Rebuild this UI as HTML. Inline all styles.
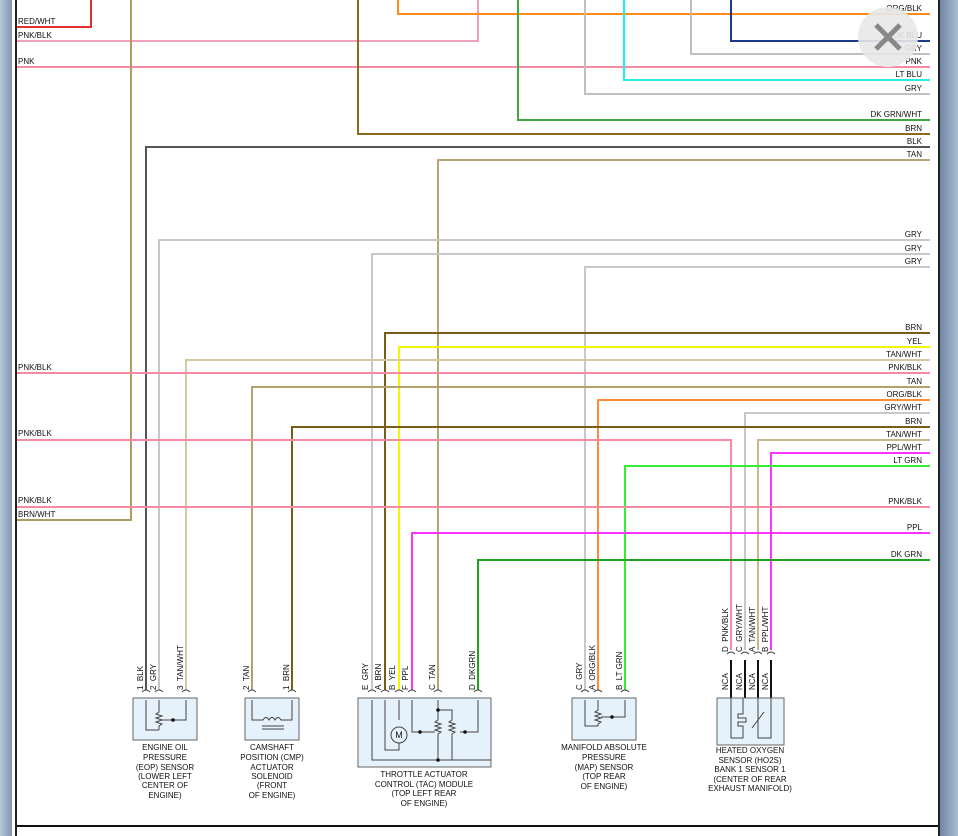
<!DOCTYPE html>
<html><head><meta charset="utf-8"><style>
html,body{margin:0;padding:0;width:958px;height:836px;overflow:hidden;background:#fff}
svg{display:block}
text{font-family:"Liberation Sans",Arial,sans-serif;font-size:8px;fill:#111}
.r{text-anchor:end}
.c{text-anchor:middle}
.w{fill:none;stroke-width:2}
</style></head><body>
<svg width="958" height="836" viewBox="0 0 958 836">
<defs>
<linearGradient id="bg" x1="0" x2="1"><stop offset="0" stop-color="#b8c8da"/><stop offset="1" stop-color="#7f96b2"/></linearGradient>
<linearGradient id="bg2" x1="0" x2="1"><stop offset="0" stop-color="#6f87a5"/><stop offset="1" stop-color="#a9bcd2"/></linearGradient>
</defs>
<rect x="0" y="0" width="12" height="836" fill="url(#bg)"/>
<rect x="12" y="0" width="5" height="836" fill="#fff"/>
<rect x="15" y="0" width="2" height="836" fill="#222"/>
<rect x="940" y="0" width="18" height="836" fill="url(#bg2)"/>
<rect x="938" y="0" width="2" height="836" fill="#222"/>
<rect x="17" y="825" width="921" height="2" fill="#111"/>
<rect x="17" y="827" width="921" height="9" fill="#fff"/>

<g class="w">
<!-- top wires -->
<path d="M17 27H91V0" stroke="#e53030"/>
<path d="M17 41H478V0" stroke="#f0a0b8"/>
<path d="M17 67H930" stroke="#f58aa3"/>
<path d="M398 0V14H930" stroke="#ff8c1a"/>
<path d="M731 0V41H930" stroke="#1c3a8c"/>
<path d="M691 0V54H930" stroke="#c0c0c0"/>
<path d="M624 0V80H930" stroke="#22eeee"/>
<path d="M585 0V94H930" stroke="#c0c0c0"/>
<path d="M518 0V120H930" stroke="#3aaa3a"/>
<path d="M358 0V134H930" stroke="#8b6a1f"/>
<path d="M131 0V520H17" stroke="#b09a60"/>
<!-- mid wires -->
<path d="M930 147H146V690" stroke="#555"/>
<path d="M930 160H438V690" stroke="#b5a578"/>
<path d="M930 240H159V690" stroke="#c8c8c8"/>
<path d="M930 254H372V690" stroke="#c8c8c8"/>
<path d="M930 267H585V690" stroke="#c8c8c8"/>
<path d="M930 333H385V690" stroke="#7a5c18"/>
<path d="M930 347H399V690" stroke="#f5f500"/>
<path d="M930 360H186V690" stroke="#d6c8a4"/>
<path d="M17 373H930" stroke="#f58aa3"/>
<path d="M930 387H252V690" stroke="#b5a070"/>
<path d="M930 400H598V690" stroke="#ff8c3a"/>
<path d="M930 413H745V650" stroke="#c8c8c8"/>
<path d="M930 427H292V690" stroke="#7a5c18"/>
<path d="M17 440H731V650" stroke="#f58aa3"/>
<path d="M930 440H758V650" stroke="#c8b890"/>
<path d="M930 453H771V650" stroke="#ff33ff"/>
<path d="M930 466H625V690" stroke="#33ee33"/>
<path d="M17 507H930" stroke="#f58aa3"/>
<path d="M930 533H412V690" stroke="#ff33ff"/>
<path d="M930 560H478V690" stroke="#22a022"/>
<!-- HO2S black NCA -->
<path d="M731 660V698M745 660V698M758 660V698M771 660V698" stroke="#111"/>
</g>

<!-- left labels -->
<text x="18" y="24">RED/WHT</text>
<text x="18" y="38">PNK/BLK</text>
<text x="18" y="64">PNK</text>
<text x="18" y="370">PNK/BLK</text>
<text x="18" y="436">PNK/BLK</text>
<text x="18" y="503">PNK/BLK</text>
<text x="18" y="517">BRN/WHT</text>
<!-- right labels -->
<g class="r">
<text x="922" y="11">ORG/BLK</text>
<text x="922" y="38">DK BLU</text>
<text x="922" y="51">GRY</text>
<text x="922" y="64">PNK</text>
<text x="922" y="77">LT BLU</text>
<text x="922" y="91">GRY</text>
<text x="922" y="117">DK GRN/WHT</text>
<text x="922" y="131">BRN</text>
<text x="922" y="144">BLK</text>
<text x="922" y="157">TAN</text>
<text x="922" y="237">GRY</text>
<text x="922" y="251">GRY</text>
<text x="922" y="264">GRY</text>
<text x="922" y="330">BRN</text>
<text x="922" y="344">YEL</text>
<text x="922" y="357">TAN/WHT</text>
<text x="922" y="370">PNK/BLK</text>
<text x="922" y="384">TAN</text>
<text x="922" y="397">ORG/BLK</text>
<text x="922" y="410">GRY/WHT</text>
<text x="922" y="424">BRN</text>
<text x="922" y="437">TAN/WHT</text>
<text x="922" y="450">PPL/WHT</text>
<text x="922" y="463">LT GRN</text>
<text x="922" y="504">PNK/BLK</text>
<text x="922" y="530">PPL</text>
<text x="922" y="557">DK GRN</text>
</g>

<!-- close button -->
<circle cx="888" cy="37" r="30" fill="#e8e8e8" opacity="0.9"/>
<path d="M876 25L900 49M900 25L876 49" stroke="#888" stroke-width="5"/>

<!-- sensor boxes -->
<g fill="#e6f2fb" stroke="#666" stroke-width="1">
<rect x="133" y="698" width="64" height="42"/>
<rect x="245" y="698" width="54" height="42"/>
<rect x="358" y="698" width="133" height="69"/>
<rect x="572" y="698" width="64" height="42"/>
<rect x="717" y="698" width="67" height="47"/>
</g>
<!-- pin arcs -->
<g fill="none" stroke="#444" stroke-width="1">
<path d="M142 692q4-4 8 0M155 692q4-4 8 0M182 692q4-4 8 0M248 692q4-4 8 0M288 692q4-4 8 0M368 692q4-4 8 0M381 692q4-4 8 0M395 692q4-4 8 0M408 692q4-4 8 0M434 692q4-4 8 0M474 692q4-4 8 0M581 692q4-4 8 0M594 692q4-4 8 0M621 692q4-4 8 0M727 654q4-4 8 0M741 654q4-4 8 0M754 654q4-4 8 0M767 654q4-4 8 0"/>
<!-- internal EOP -->
<path d="M146 700V730H159M159 700V712l-3 2 6 2-6 2 6 2-6 2 6 2-3 2V730M162 720H186V700"/>
<!-- CMP -->
<path d="M252 700V720H263q3-5 6 0q3-5 6 0q3-5 6 0H292V700M262 726H284M262 729H284"/>
<!-- TAC -->
<path d="M372 700V760H491M385 700V750H399V742M399 700V720M412 700V732H435M438 700V710H452V720l-3 2 6 2-6 2 6 2-6 2 6 2-3 2V760M438 710V720l-3 2 6 2-6 2 6 2-6 2 6 2-3 2V760M460 732H478V700"/>
<circle cx="399" cy="735" r="8" fill="#e6f2fb"/>
<!-- MAP -->
<path d="M585 700V726H598M598 700V710l-3 2 6 2-6 2 6 2-6 2 6 2-3 2V726M601 717H625V700"/>
<!-- HO2S -->
<path d="M731 698V738H743V726h-5v-4h8v-4h-8v-4h5V698M758 698V738H771V698M752 728L764 712"/>
</g>
<g fill="#111"><circle cx="173" cy="720" r="1.8"/><circle cx="438" cy="710" r="1.8"/><circle cx="420" cy="732" r="1.8"/><circle cx="465" cy="732" r="1.8"/><circle cx="438" cy="760" r="1.8"/><circle cx="612" cy="717" r="1.8"/></g>
<text x="399" y="738" class="c" style="font-size:9px">M</text>

<!-- rotated pin labels -->
<g style="font-size:7.5px">
<text transform="translate(143,690) rotate(-90)">1 &#160;BLK</text>
<text transform="translate(156,690) rotate(-90)">2 &#160;GRY</text>
<text transform="translate(183,690) rotate(-90)">3 &#160;TAN/WHT</text>
<text transform="translate(249,690) rotate(-90)">2 &#160;TAN</text>
<text transform="translate(289,690) rotate(-90)">1 &#160;BRN</text>
<text transform="translate(368,690) rotate(-90)">E &#160;GRY</text>
<text transform="translate(381,690) rotate(-90)">A &#160;BRN</text>
<text transform="translate(395,690) rotate(-90)">B &#160;YEL</text>
<text transform="translate(408,690) rotate(-90)">F &#160;PPL</text>
<text transform="translate(435,690) rotate(-90)">C &#160;TAN</text>
<text transform="translate(475,690) rotate(-90)">D &#160;DKGRN</text>
<text transform="translate(582,690) rotate(-90)">C &#160;GRY</text>
<text transform="translate(595,690) rotate(-90)">A &#160;ORG/BLK</text>
<text transform="translate(622,690) rotate(-90)">B &#160;LT GRN</text>
<text transform="translate(728,652) rotate(-90)">D &#160;PNK/BLK</text>
<text transform="translate(742,652) rotate(-90)">C &#160;GRY/WHT</text>
<text transform="translate(755,652) rotate(-90)">A &#160;TAN/WHT</text>
<text transform="translate(768,652) rotate(-90)">B &#160;PPL/WHT</text>
<text transform="translate(728,690) rotate(-90)">NCA</text>
<text transform="translate(742,690) rotate(-90)">NCA</text>
<text transform="translate(755,690) rotate(-90)">NCA</text>
<text transform="translate(768,690) rotate(-90)">NCA</text>
</g>

<!-- captions -->
<g class="c">
<text x="165" y="750">ENGINE OIL</text><text x="165" y="760">PRESSURE</text><text x="165" y="770">(EOP) SENSOR</text><text x="165" y="779">(LOWER LEFT</text><text x="165" y="788">CENTER OF</text><text x="165" y="798">ENGINE)</text>
<text x="272" y="750">CAMSHAFT</text><text x="272" y="760">POSITION (CMP)</text><text x="272" y="770">ACTUATOR</text><text x="272" y="779">SOLENOID</text><text x="272" y="788">(FRONT</text><text x="272" y="798">OF ENGINE)</text>
<text x="424" y="777">THROTTLE ACTUATOR</text><text x="424" y="787">CONTROL (TAC) MODULE</text><text x="424" y="796">(TOP LEFT REAR</text><text x="424" y="806">OF ENGINE)</text>
<text x="604" y="750">MANIFOLD ABSOLUTE</text><text x="604" y="760">PRESSURE</text><text x="604" y="770">(MAP) SENSOR</text><text x="604" y="779">(TOP REAR</text><text x="604" y="789">OF ENGINE)</text>
<text x="750" y="753">HEATED OXYGEN</text><text x="750" y="763">SENSOR (HO2S)</text><text x="750" y="772">BANK 1 SENSOR 1</text><text x="750" y="782">(CENTER OF REAR</text><text x="750" y="791">EXHAUST MANIFOLD)</text>
</g>
</svg>
</body></html>
